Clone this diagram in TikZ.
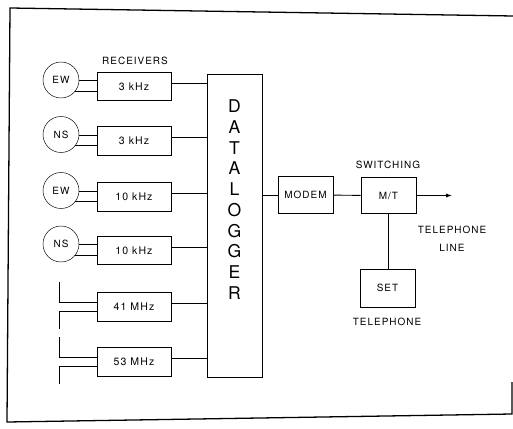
\documentclass[tikz,border=0pt]{standalone}
\usepackage{fontspec}
\setmainfont[LetterSpace=10]{TeX Gyre Heros}
\usetikzlibrary{arrows.meta}
\usetikzlibrary{positioning}
\tikzstyle{every node}=[inner sep=0pt]
\tikzstyle{sensor}=[circle, draw=black, thin, minimum size=1.08cm, font=\fontsize{8.5}{10}\selectfont]
\tikzstyle{rx}=[rectangle, draw=black, minimum width=2.22cm, minimum height=0.86cm, font=\fontsize{9}{10}\selectfont]
\tikzstyle{block}=[rectangle, draw=black, minimum width=1.65cm, minimum height=1.1cm, font=\fontsize{8.5}{10}\selectfont]
\tikzstyle{caption}=[font=\fontsize{8.5}{10}\selectfont]

\begin{document}
\begin{tikzpicture}[x=0.03cm, y=-0.03cm]
	\pgfsetlinewidth{0.8pt}
	\useasboundingbox (0,0) rectangle (513,429);

	% outer frame (scanned page edge)
	\draw[line width=1.1pt] (513,16) -- (10,8) -- (7,422) -- (512,414) -- (512,382);

	% Receivers
	\node[caption] (rxlabel) at (135,61) {RECEIVERS};
	\node[rx] (r1) at (134,86.5) {3 kHz};
	\node[rx] (r2) at (134,141) {3 kHz};
	\node[rx] (r3) at (134,197) {10 kHz};
	\node[rx] (r4) at (134,250.5) {10 kHz};
	\node[rx] (r5) at (134,307) {41 MHz};
	\node[rx] (r6) at (134,362) {53 MHz};

	% loop antennas
	\node[sensor] (s1) at (61,80) {EW};
	\node[sensor] (s2) at (61,134.5) {NS};
	\node[sensor] (s3) at (61,190.5) {EW};
	\node[sensor] (s4) at (61,244) {NS};

	% double feed from each loop
	\foreach \i in {1,...,4} {
		\draw (s\i.-3) -- (s\i.-3 -| r\i.west);
		\draw (s\i.-38) -- (s\i.-38 -| r\i.west);
	}

	% dipole antennas
	\coordinate (a5up) at (59,282);
	\coordinate (a5dn) at (59,329);
	\coordinate (a6up) at (59,337);
	\coordinate (a6dn) at (59,384);
	\foreach \i in {5,6} {
		\draw (a\i up) |- ([yshift=0.15cm]r\i.west);
		\draw (a\i dn) |- ([yshift=-0.12cm]r\i.west);
	}

	% Datalogger
	\node[draw=black, minimum width=1.65cm, minimum height=9.09cm] (dl) at (234.5,225.5) {};
	\node[font=\fontsize{15}{17.7}\selectfont, align=center] (dltext) at (234.5,199.5)
		{D\\A\\T\\A\\L\\O\\G\\G\\E\\R};

	\foreach \i in {1,...,6} {
		\draw ([yshift=1mm]r\i.east) -- ([yshift=1mm]r\i.east -| dl.west);
	}

	% Modem and switching
	\node[block] (modem) at (305.5,195) {MODEM};
	\node[block] (mt) at (388.5,195.5) {M/T};
	\node[caption] (switching) at (388,165) {SWITCHING};
	\node[block, minimum height=1.14cm] (set) at (387.5,288) {SET};
	\node[caption] (telephone) at (387,322) {TELEPHONE};

	\draw (modem.west -| dl.east) -- (modem.west);
	\draw (modem) -- (mt);
	\draw (mt.south) -- (mt.south |- set.north);

	% telephone line
	\coordinate (lineend) at (452,195.5);
	\draw[-{Latex[length=5pt, width=3.5pt]}] (mt.east) -- (lineend);
	\node[caption, align=center, font=\fontsize{8.5}{15.4}\selectfont] (telline) at (452,239) {TELEPHONE\\LINE};

\end{tikzpicture}
\end{document}
